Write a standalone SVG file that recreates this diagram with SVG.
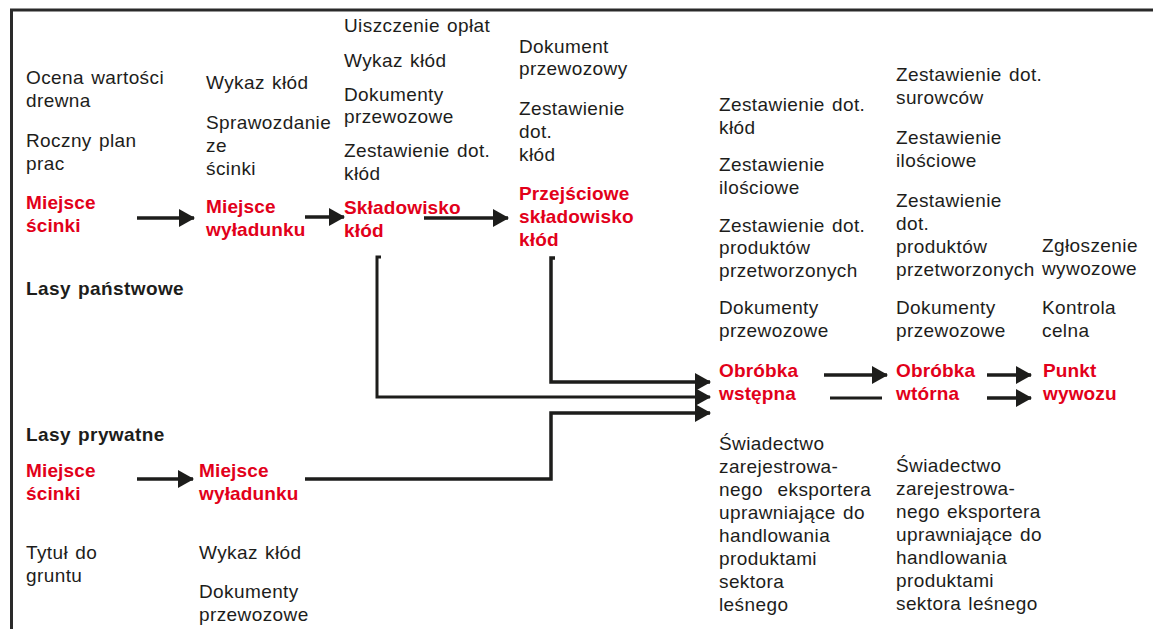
<svg xmlns="http://www.w3.org/2000/svg" width="1153" height="629" viewBox="0 0 1153 629">
<style>
text{font-family:"Liberation Sans",Arial,Helvetica,sans-serif;font-size:19px;fill:#1d1d1b;letter-spacing:0.4px;word-spacing:1.5px}
.r{fill:#e2001a;font-weight:bold;letter-spacing:0.15px;word-spacing:0}
.h{font-weight:bold}
.ln{fill:none;stroke:#1d1d1b;stroke-width:3.5}
.thin{stroke-width:3}
.border{fill:none;stroke:#2a2a2a;stroke-width:3}
</style>
<defs>
<marker id="ah" markerUnits="userSpaceOnUse" markerWidth="16" markerHeight="18" viewBox="0 0 16 18" refX="15" refY="9" orient="auto"><path d="M0,0 L16,9 L0,18 Z" fill="#1d1d1b"/></marker>
</defs>
<rect width="1153" height="629" fill="#fff"/>
<path class="border" d="M11.5,629 V10 H1153"/>

<g id="connectors">
<path class="ln" d="M137,218 H194" marker-end="url(#ah)"/>
<path class="ln" d="M305,217 H344" marker-end="url(#ah)"/>
<path class="ln" d="M424,218 H508" marker-end="url(#ah)"/>
<path class="ln" d="M137,479 H193" marker-end="url(#ah)"/>
<path class="ln thin" d="M381,257 H377 V397 H710" marker-end="url(#ah)"/>
<path class="ln" d="M555,258 H551 V382 H710" marker-end="url(#ah)"/>
<path class="ln" d="M305,479 H551 V413 H710" marker-end="url(#ah)"/>
<path class="ln" d="M824,375 H887" marker-end="url(#ah)"/>
<path class="ln thin" d="M830,398 H882"/>
<path class="ln" d="M987,375 H1031" marker-end="url(#ah)"/>
<path class="ln" d="M987,398 H1031" marker-end="url(#ah)"/>
</g>

<g id="lasy-panstwowe"><text class="h" x="26" y="295">Lasy państwowe</text></g>

<g id="lp-miejsce-scinki">
<text x="26"><tspan x="26" y="84">Ocena wartości</tspan><tspan x="26" y="107">drewna</tspan><tspan x="26" y="147">Roczny plan</tspan><tspan x="26" y="170">prac</tspan></text>
<text class="r"><tspan x="26" y="209">Miejsce</tspan><tspan x="26" y="232">ścinki</tspan></text>
</g>

<g id="lp-miejsce-wyladunku">
<text><tspan x="206" y="89">Wykaz kłód</tspan><tspan x="206" y="129">Sprawozdanie</tspan><tspan x="206" y="152">ze</tspan><tspan x="206" y="175">ścinki</tspan></text>
<text class="r"><tspan x="206" y="213">Miejsce</tspan><tspan x="206" y="236">wyładunku</tspan></text>
</g>

<g id="skladowisko-klod">
<text><tspan x="344" y="32">Uiszczenie opłat</tspan><tspan x="344" y="67">Wykaz kłód</tspan><tspan x="344" y="101">Dokumenty</tspan><tspan x="344" y="123">przewozowe</tspan><tspan x="344" y="157">Zestawienie dot.</tspan><tspan x="344" y="180">kłód</tspan></text>
<text class="r"><tspan x="344" y="214">Składowisko</tspan><tspan x="344" y="237">kłód</tspan></text>
</g>

<g id="przejsciowe-skladowisko">
<text><tspan x="519" y="53">Dokument</tspan><tspan x="519" y="75">przewozowy</tspan><tspan x="519" y="115">Zestawienie</tspan><tspan x="519" y="138">dot.</tspan><tspan x="519" y="161">kłód</tspan></text>
<text class="r"><tspan x="519" y="200">Przejściowe</tspan><tspan x="519" y="223">składowisko</tspan><tspan x="519" y="246">kłód</tspan></text>
</g>

<g id="obrobka-wstepna">
<text><tspan x="719" y="111">Zestawienie dot.</tspan><tspan x="719" y="134">kłód</tspan><tspan x="719" y="171">Zestawienie</tspan><tspan x="719" y="194">ilościowe</tspan><tspan x="719" y="232">Zestawienie dot.</tspan><tspan x="719" y="254">produktów</tspan><tspan x="719" y="277">przetworzonych</tspan><tspan x="719" y="314">Dokumenty</tspan><tspan x="719" y="337">przewozowe</tspan></text>
<text class="r"><tspan x="719" y="377">Obróbka</tspan><tspan x="719" y="400">wstępna</tspan></text>
<text><tspan x="719" y="450">Świadectwo</tspan><tspan x="719" y="473">zarejestrowa-</tspan><tspan x="719" y="496" word-spacing="9">nego eksportera</tspan><tspan x="719" y="519">uprawniające do</tspan><tspan x="719" y="542">handlowania</tspan><tspan x="719" y="565">produktami</tspan><tspan x="719" y="588">sektora</tspan><tspan x="719" y="611">leśnego</tspan></text>
</g>

<g id="obrobka-wtorna">
<text><tspan x="896" y="81">Zestawienie dot.</tspan><tspan x="896" y="104">surowców</tspan><tspan x="896" y="144">Zestawienie</tspan><tspan x="896" y="167">ilościowe</tspan><tspan x="896" y="207">Zestawienie</tspan><tspan x="896" y="230">dot.</tspan><tspan x="896" y="253">produktów</tspan><tspan x="896" y="276">przetworzonych</tspan><tspan x="896" y="314">Dokumenty</tspan><tspan x="896" y="337">przewozowe</tspan></text>
<text class="r"><tspan x="896" y="377">Obróbka</tspan><tspan x="896" y="400">wtórna</tspan></text>
<text><tspan x="896" y="472">Świadectwo</tspan><tspan x="896" y="495">zarejestrowa-</tspan><tspan x="896" y="518">nego eksportera</tspan><tspan x="896" y="541">uprawniające do</tspan><tspan x="896" y="564">handlowania</tspan><tspan x="896" y="587">produktami</tspan><tspan x="896" y="610">sektora leśnego</tspan></text>
</g>

<g id="punkt-wywozu">
<text><tspan x="1042" y="252">Zgłoszenie</tspan><tspan x="1042" y="275">wywozowe</tspan><tspan x="1042" y="314">Kontrola</tspan><tspan x="1042" y="337">celna</tspan></text>
<text class="r"><tspan x="1043" y="377">Punkt</tspan><tspan x="1043" y="400">wywozu</tspan></text>
</g>

<g id="lasy-prywatne"><text class="h" x="26" y="441">Lasy prywatne</text></g>

<g id="pr-miejsce-scinki">
<text class="r"><tspan x="26" y="477">Miejsce</tspan><tspan x="26" y="500">ścinki</tspan></text>
<text><tspan x="26" y="559">Tytuł do</tspan><tspan x="26" y="582">gruntu</tspan></text>
</g>

<g id="pr-miejsce-wyladunku">
<text class="r"><tspan x="199" y="477">Miejsce</tspan><tspan x="199" y="500">wyładunku</tspan></text>
<text><tspan x="199" y="559">Wykaz kłód</tspan><tspan x="199" y="598">Dokumenty</tspan><tspan x="199" y="621">przewozowe</tspan></text>
</g>
</svg>
